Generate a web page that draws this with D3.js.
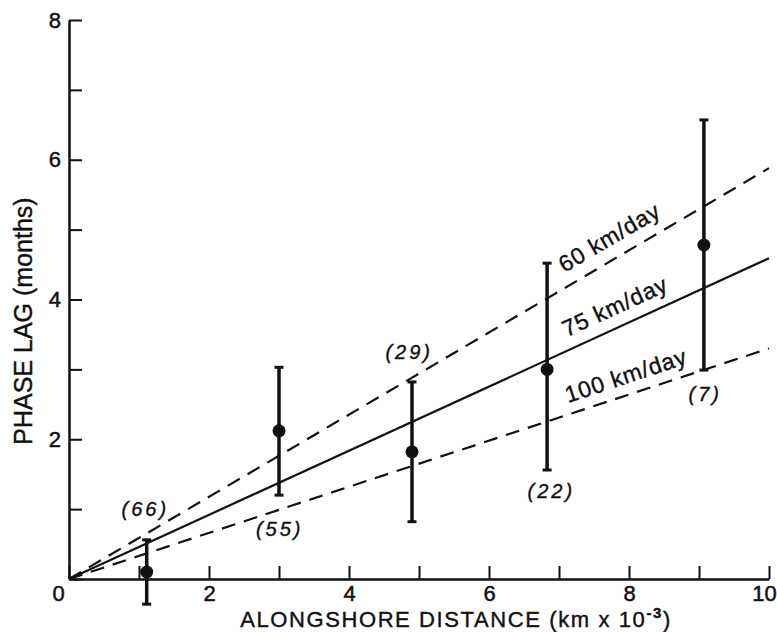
<!DOCTYPE html>
<html>
<head>
<meta charset="utf-8">
<script src="https://cdn.jsdelivr.net/npm/d3@7"></script>
<style>
    body { margin: 0; background: #fff; }
    svg { display: block; }
    text { font-family: "Liberation Sans", Arial, sans-serif; fill: #111; }
</style>
</head>
<body>
<div id="chart"></div>
<script>
// Observations: alongshore distance (km x 10^-3) and phase lag (months)
const distance = [1.11, 3.0, 4.9, 6.83, 9.07];
const phaseLag = [0.10, 2.12, 1.82, 3.0, 4.78];
const lagHigh = [0.56, 3.03, 2.82, 4.52, 6.57];
const lagLow = [-0.36, 1.20, 0.82, 1.56, 2.99];

// Number of samples, written next to each point
const sampleCounts = ["(66)", "(55)", "(29)", "(22)", "(7)"];
const countX = [1.09, 3.01, 4.86, 6.89, 9.09];
const countY = [0.90, 0.62, 3.15, 1.16, 2.55];

// Propagation speed lines through the origin
const speedLabels = ["60 km/day", "75 km/day", "100 km/day"];
const lagAt10 = [5.88, 4.59, 3.30];
const speedDashed = [true, false, true];
const speedLabelX = [7.08, 7.11, 7.13];
const speedLabelY = [4.38, 3.46, 2.52];

const xTickValues = d3.range(0, 11);
const yTickValues = d3.range(0, 9);

const width = 777, height = 632;

const svg = d3.select('#chart')
    .append('svg')
    .attr('width', width)
    .attr('height', height)
    .style('background-color', '#fff');

const x = d3.scaleLinear().domain([0, 10]).range([69, 769]);
const y = d3.scaleLinear().domain([0, 8]).range([579, 20]);

// Axes (ticks point inward)
const xAxis = d3.axisBottom(x)
    .tickValues(xTickValues)
    .tickSizeInner(-13)
    .tickSizeOuter(0)
    .tickPadding(6)
    .tickFormat(d => d % 2 === 0 ? d : '');

const yAxis = d3.axisLeft(y)
    .tickValues(yTickValues)
    .tickSizeInner(-13)
    .tickSizeOuter(0)
    .tickPadding(8)
    .tickFormat(d => (d % 2 === 0 && d !== 0) ? d : '');

const gx = svg.append('g')
    .attr('transform', `translate(0, ${y(0)})`)
    .call(xAxis);

const gy = svg.append('g')
    .attr('transform', `translate(${x(0)}, 0)`)
    .call(yAxis);

[gx, gy].forEach(g => {
    g.attr('font-size', null).attr('font-family', null);
    g.select('.domain').attr('stroke', '#111').attr('stroke-width', 2.5);
    g.selectAll('.tick line').attr('stroke', '#111').attr('stroke-width', 2);
    g.selectAll('.tick text')
        .style('font-size', '22px')
        .style('font-family', '"Liberation Sans", Arial, sans-serif')
        .attr('fill', '#111')
        .attr('stroke', '#111')
        .attr('stroke-width', 0.5);
});

// shared origin label sits left of the corner; the last label hugs the edge
gx.selectAll('.tick text').filter(d => d === 0).attr('x', -11);
gx.selectAll('.tick text').filter(d => d === 10).attr('x', -5);

// Speed lines
const line = d3.line().x(d => x(d[0])).y(d => y(d[1]));

lagAt10.forEach((v, i) => {
    svg.append('path')
        .attr('d', line([[0, 0], [10, v]]))
        .attr('fill', 'none')
        .attr('stroke', '#111')
        .attr('stroke-width', 2.2)
        .attr('stroke-dasharray', speedDashed[i] ? '14,9' : null);

    const angle = Math.atan2(y(v) - y(0), x(10) - x(0)) * 180 / Math.PI;
    svg.append('text')
        .attr('transform', `translate(${x(speedLabelX[i])}, ${y(speedLabelY[i])}) rotate(${angle})`)
        .style('font-size', '23px')
        .attr('letter-spacing', 0.8)
        .attr('stroke', '#111')
        .attr('stroke-width', 0.4)
        .text(speedLabels[i]);
});

// Error bars and points
const caps = 4.5;
distance.forEach((d, i) => {
    svg.append('line')
        .attr('x1', x(d)).attr('x2', x(d))
        .attr('y1', y(lagLow[i])).attr('y2', y(lagHigh[i]))
        .attr('stroke', '#111')
        .attr('stroke-width', 3.5);

    [lagLow[i], lagHigh[i]].forEach(v => {
        svg.append('line')
            .attr('x1', x(d) - caps).attr('x2', x(d) + caps)
            .attr('y1', y(v)).attr('y2', y(v))
            .attr('stroke', '#111')
            .attr('stroke-width', 3);
    });

    svg.append('circle')
        .attr('cx', x(d))
        .attr('cy', y(phaseLag[i]))
        .attr('r', 6.5)
        .attr('fill', '#111');
});

// Sample counts
sampleCounts.forEach((c, i) => {
    svg.append('text')
        .attr('x', x(countX[i]))
        .attr('y', y(countY[i]))
        .attr('text-anchor', 'middle')
        .style('font-size', '20px')
        .attr('font-style', 'italic')
        .attr('letter-spacing', 3)
        .attr('stroke', '#111')
        .attr('stroke-width', 0.4)
        .text(c);
});

// Axis titles
svg.append('text')
    .attr('transform', 'translate(32, 321) rotate(-90)')
    .attr('text-anchor', 'middle')
    .style('font-size', '25px')
    .attr('stroke', '#111')
    .attr('stroke-width', 0.4)
    .text('PHASE LAG (months)');

const xTitle = svg.append('text')
    .attr('x', 456)
    .attr('y', 627)
    .attr('text-anchor', 'middle')
    .style('font-size', '22px')
    .attr('letter-spacing', 1.6)
    .attr('stroke', '#111')
    .attr('stroke-width', 0.4);
xTitle.append('tspan').text('ALONGSHORE DISTANCE (km x 10');
xTitle.append('tspan').style('font-size', '15px').attr('font-weight', 'bold').attr('dy', -9).text('-3');
xTitle.append('tspan').attr('dy', 9).text(')');
</script>
</body>
</html>
